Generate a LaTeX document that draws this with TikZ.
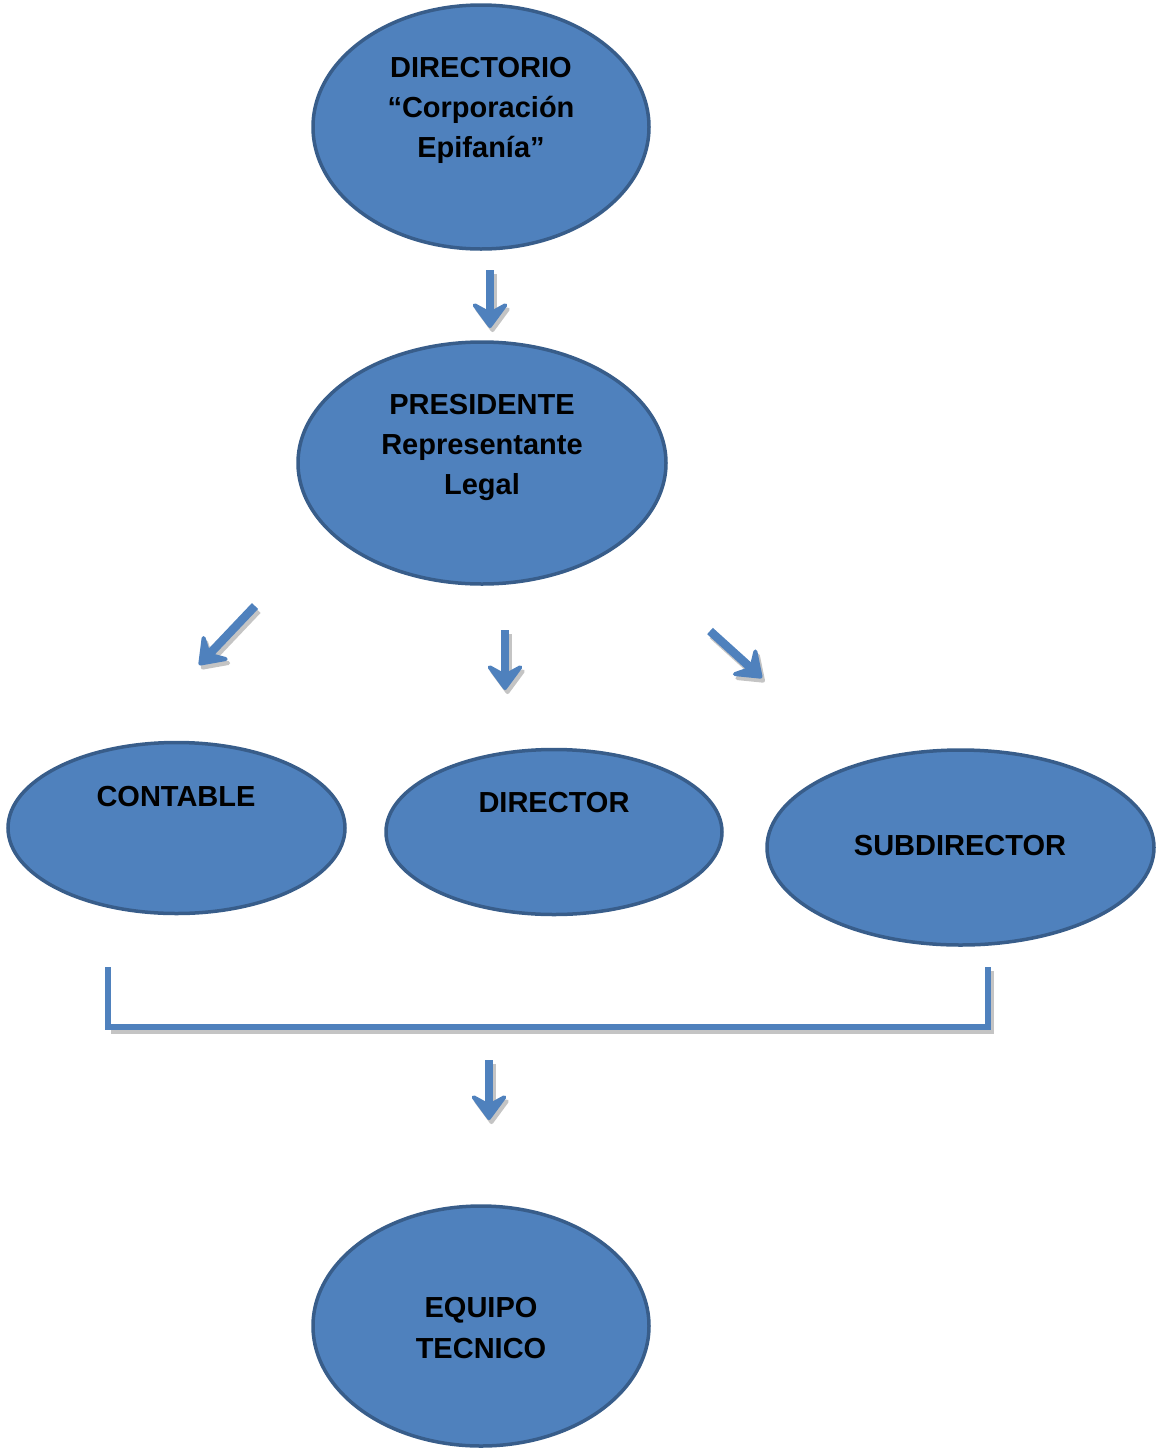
\documentclass[tikz,border=0pt]{standalone}
\usepackage{fontspec}
\setmainfont{Liberation Sans}
\usetikzlibrary{shapes.geometric,arrows.meta}
\definecolor{fillblue}{HTML}{4F81BD}
\definecolor{edgeblue}{HTML}{385D8A}
\definecolor{shadowgray}{HTML}{C4C4C4}
\tikzset{
  oval/.style={ellipse, draw=edgeblue, fill=fillblue, line width=3.5pt, inner sep=0pt},
  txt/.style={align=center, font=\fontsize{29}{40}\selectfont\bfseries, text=black, inner sep=0pt},
  headtip/.style={-{Stealth[length=30pt,width=44pt,inset=12pt,round,line width=4pt]}},
  blockarrow/.style={draw=fillblue, line width=8.5pt, headtip},
  shadowarrow/.style={draw=shadowgray, line width=8.5pt, headtip},
  bracketline/.style={draw=fillblue, line width=6pt},
  bracketshadow/.style={draw=shadowgray, line width=6pt},
}
\begin{document}
\begin{tikzpicture}[x=1pt,y=-1pt]
\useasboundingbox (0,0) rectangle (1159,1449);
% ellipses
\node[oval, minimum width=336pt, minimum height=244pt] (dir) at (481,127) {};
\node[oval, minimum width=368pt, minimum height=242pt] (pres) at (482,463) {};
\node[oval, minimum width=337pt, minimum height=171pt] (cont) at (176.5,828) {};
\node[oval, minimum width=336pt, minimum height=165pt] (dtor) at (554,832) {};
\node[oval, minimum width=387pt, minimum height=195pt] (sub) at (960.5,847.5) {};
\node[oval, minimum width=336pt, minimum height=240pt] (eq) at (481,1326) {};
% texts
\node[txt] (tdir) at (481,110) {DIRECTORIO\\“Corporación\\Epifanía”};
\node[txt] (tpres) at (482,447) {PRESIDENTE\\Representante\\Legal};
\node[txt] (tcont) at (176,797) {CONTABLE};
\node[txt] (tdtor) at (554,803) {DIRECTOR};
\node[txt] (tsub) at (960,846) {SUBDIRECTOR};
\node[txt] (teq) at (481,1328) {EQUIPO\\TECNICO};
% arrow coordinates
\coordinate (a1s) at (490,270); \coordinate (a1e) at (490,328);
\coordinate (a2s) at (255,606); \coordinate (a2e) at (199,665);
\coordinate (a3s) at (505,630); \coordinate (a3e) at (505,690);
\coordinate (a4s) at (710,631); \coordinate (a4e) at (762,678);
\coordinate (a5s) at (489,1060); \coordinate (a5e) at (489,1120);
\coordinate (bl) at (108,967); \coordinate (blc) at (108,1027);
\coordinate (brc) at (988,1027); \coordinate (br) at (988,967);
% shadows
\begin{scope}[transform canvas={shift={(2.5pt,-4pt)}}]
\draw[shadowarrow] (a1s) -- (a1e);
\draw[shadowarrow] (a2s) -- (a2e);
\draw[shadowarrow] (a3s) -- (a3e);
\draw[shadowarrow] (a4s) -- (a4e);
\draw[shadowarrow] (a5s) -- (a5e);
\draw[bracketshadow] (blc) -- (brc) -- (br);
\end{scope}
% arrows
\draw[blockarrow] (a1s) -- (a1e);
\draw[blockarrow] (a2s) -- (a2e);
\draw[blockarrow] (a3s) -- (a3e);
\draw[blockarrow] (a4s) -- (a4e);
\draw[blockarrow] (a5s) -- (a5e);
\draw[bracketline] (bl) -- (blc) -- (brc) -- (br);
\end{tikzpicture}
\end{document}
